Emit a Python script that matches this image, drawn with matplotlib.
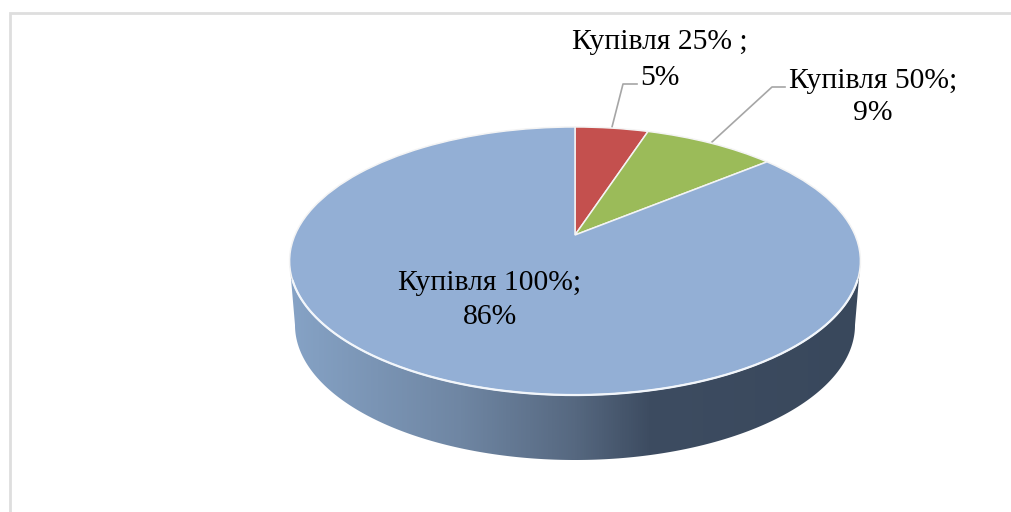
import numpy as np
import matplotlib
matplotlib.use("Agg")
import matplotlib.pyplot as plt
from matplotlib.colors import LinearSegmentedColormap
from matplotlib.patches import Polygon
from matplotlib.transforms import Transform

categories = ["Купівля 25%", "Купівля 50%", "Купівля 100%"]
shares = [5, 9, 86]
colors = ["#c4504e", "#9bbb59", "#93afd5"]
label_lines = [["Купівля 25% ;", "5%"], ["Купівля 50%;", "9%"], ["Купівля 100%;", "86%"]]

W, H = 1011, 512
CX, CY = 575.0, 235.0   # projected pie centre
A, D, K = 280.0, 129.0, 0.194


class Tilt(Transform):
    """Perspective tilt of the unit pie onto the pixel canvas."""
    input_dims = output_dims = 2

    def transform_non_affine(self, xy):
        xy = np.asarray(xy, float)
        w = 1 + K * xy[:, 1]
        return np.column_stack([CX + A * xy[:, 0] / w, CY - D * xy[:, 1] / w])


fig = plt.figure(figsize=(W / 100, H / 100), dpi=100, facecolor="white")
ax = fig.add_axes([0, 0, 1, 1])

wedges, _ = ax.pie(shares, colors=colors, startangle=90, counterclock=False,
                   wedgeprops=dict(edgecolor="#f4f4f4", linewidth=1.1))
ax.set_aspect("auto")
ax.axis("off")

tilt = Tilt()
for w in wedges:
    w.set_transform(tilt + ax.transData)
    w.set_zorder(4)

# frame: left and top strokes only, running off the picture
ax.plot([9.5, 9.5, 1011], [512, 13, 13], color="#dedede", linewidth=2, zorder=1,
        solid_joinstyle="miter")

# side wall
t = np.linspace(0, 2 * np.pi, 721)
rim = tilt.transform_non_affine(np.column_stack([np.cos(t), np.sin(t)]))
lower = rim[rim[:, 1] >= 261]
lower = lower[np.argsort(lower[:, 0])]
s = np.linspace(0, np.pi, 361)
base = np.column_stack([575 + 280 * np.cos(s), 325 + 135 * np.sin(s)])
wall = Polygon(np.vstack([lower, base]), closed=True, facecolor="none", edgecolor="none", zorder=2)
ax.add_patch(wall)
cmap = LinearSegmentedColormap.from_list(
    "wall", [(0, "#86a3c6"), (0.3, "#6f86a3"), (0.5, "#566880"), (0.63, "#3d4c61"), (1, "#39485c")])
im = ax.imshow(np.linspace(0, 1, 512)[None, :], extent=(288, 862, 470, 255), cmap=cmap,
               aspect="auto", zorder=2)
im.set_clip_path(wall)
ax.set_xlim(0, W)
ax.set_ylim(H, 0)

# white rim on the front edge
front = lower[lower[:, 1] >= 281]
ax.plot(front[:, 0], front[:, 1], color="#f2f6fb", linewidth=1.6, zorder=5)

# leader lines
ax.plot([612, 623, 637], [127, 84, 84], color="#a6a6a6", linewidth=1.2, zorder=3)
ax.plot([712, 772, 785], [142, 87, 87], color="#a6a6a6", linewidth=1.2, zorder=3)

fs = 21.3
positions = [(660, 42, 78), (873, 81, 113), (490, 283, 317)]
for lines, (x, y1, y2) in zip(label_lines, positions):
    ax.text(x, y1, lines[0], ha="center", va="center", fontsize=fs, family="Liberation Serif", color="black", zorder=6)
    ax.text(x, y2, lines[1], ha="center", va="center", fontsize=fs, family="Liberation Serif", color="black", zorder=6)

fig.savefig("out.png", dpi=100, facecolor="white")
